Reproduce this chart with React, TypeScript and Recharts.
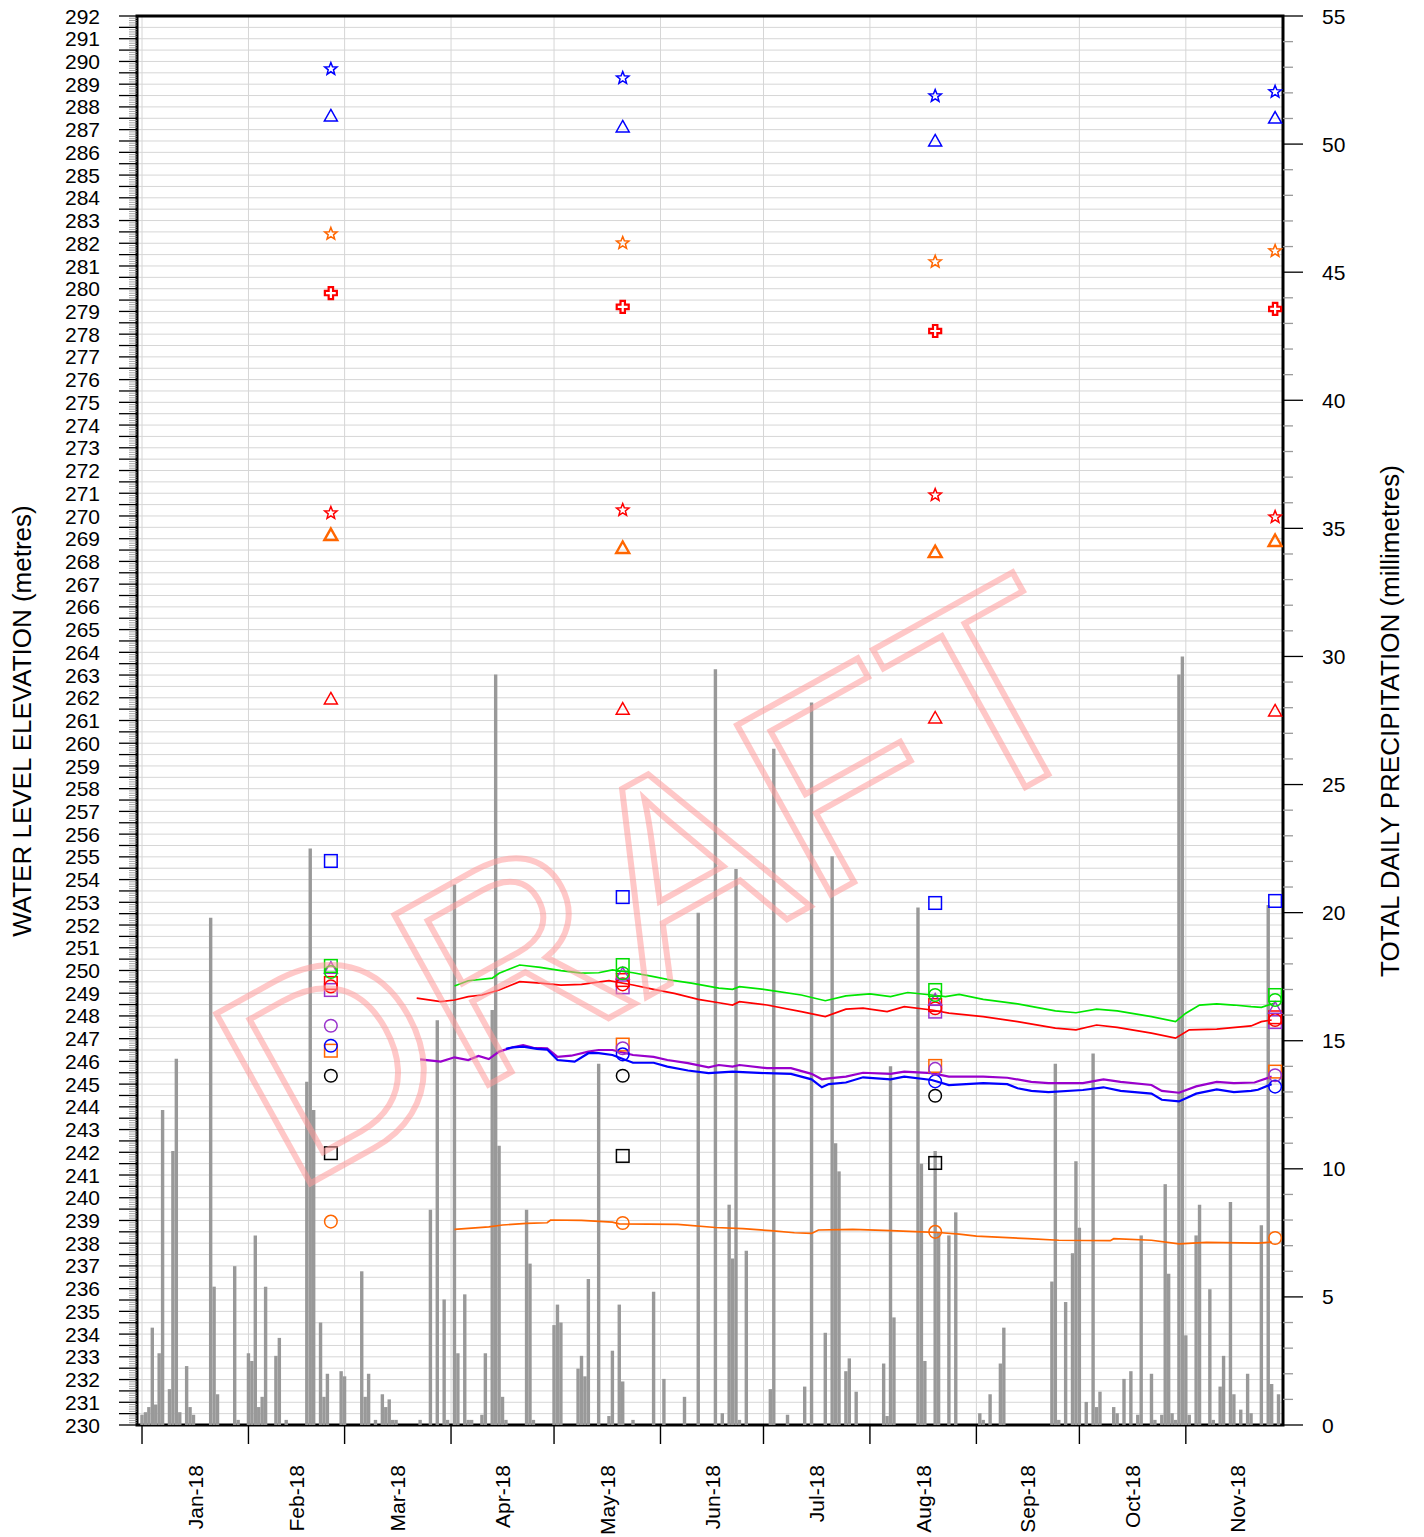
import React from 'react';
import { ComposedChart, Bar, Line, Scatter, XAxis, YAxis, CartesianGrid, ReferenceArea } from 'recharts';

const FONT = '"Liberation Sans", Arial, Helvetica, sans-serif';

// x values are days since 1 Jan 2018
const monthStarts = [0, 31, 59, 90, 120, 151, 181, 212, 243, 273, 304];
const monthMids = [15.5, 45, 74.5, 105, 135.5, 166, 196.5, 227.5, 258, 288.5, 319];
const monthLabels = ['Jan-18', 'Feb-18', 'Mar-18', 'Apr-18', 'May-18', 'Jun-18', 'Jul-18', 'Aug-18', 'Sep-18', 'Oct-18', 'Nov-18'];

// daily precipitation (mm), days with rain
const rainDays = [0, 1, 2, 3, 4, 5, 6, 8, 9, 10, 11, 13, 14, 15, 20, 21, 22, 27, 28, 31, 32, 33, 34, 35, 36, 39, 40, 42,
  48, 49, 50, 52, 53, 54, 58, 59, 64, 65, 66, 68, 70, 71, 72, 73, 74, 81, 84, 86, 88, 89, 91, 92, 94, 95, 96, 99, 100,
  102, 103, 104, 105, 106, 112, 113, 114, 120, 121, 122, 127, 128, 129, 130, 133, 136, 137, 139, 140, 143, 149, 152,
  158, 162, 167, 169, 171, 172, 173, 174, 176, 183, 184, 188, 193, 195, 199, 201, 202, 203, 205, 206, 208, 216, 217,
  218, 219, 226, 227, 228, 231, 232, 235, 237, 244, 245, 247, 250, 251, 265, 266, 267, 269, 271, 272, 273, 275, 277,
  278, 279, 283, 284, 286, 288, 290, 291, 294, 295, 297, 298, 299, 300, 301, 302, 303, 304, 305, 307, 308, 311, 312,
  314, 315, 317, 318, 320, 322, 323, 326, 328, 329, 331];
const rainMM = [0.4, 0.5, 0.7, 3.8, 0.8, 2.8, 12.3, 1.4, 10.7, 14.3, 0.5, 2.3, 0.7, 0.4, 19.8, 5.4, 1.2, 6.2, 0.2, 2.8,
  2.5, 7.4, 0.7, 1.1, 5.4, 2.7, 3.4, 0.2,
  13.4, 22.5, 12.3, 4.0, 1.1, 2.0, 2.1, 1.9, 6.0, 1.1, 2.0, 0.2, 1.2, 0.7, 1.0, 0.2, 0.2, 0.2, 8.4, 15.8, 4.9, 0.2, 21.1,
  2.8, 5.1, 0.2, 0.2, 0.4, 2.8,
  16.2, 29.3, 10.9, 1.1, 0.2, 8.4, 6.3, 0.2, 3.9, 4.7, 4.0, 2.2, 2.7, 1.9, 5.7, 14.1, 0.35, 2.9, 4.7, 1.7, 0.2, 5.2, 1.8,
  1.1, 20.0, 29.5, 0.46, 8.6, 6.5, 21.7, 0.2, 6.8, 1.4, 26.4, 0.4, 1.5, 28.2, 3.6, 22.2, 11.0, 9.9, 2.1, 2.6, 1.3, 2.4, 0.35,
  14.0, 4.2, 20.2, 10.2, 2.5, 10.7, 7.5, 7.4, 8.3, 0.46, 0.2, 1.2, 2.4, 3.8, 5.6, 14.1, 0.2, 4.8, 6.7, 10.3, 7.7, 0.9, 14.5,
  0.7, 1.3, 0.7, 0.46, 1.8, 2.1, 0.4, 7.4, 2.0, 0.2, 0.4, 9.4, 5.9, 0.46, 0.2, 29.3, 30.0, 3.5, 0.4, 7.4, 8.6, 5.3, 0.2,
  1.5, 2.7, 8.7, 1.2, 0.6, 2.0, 0.46, 7.8, 20.3, 1.6, 1.2];

// continuous water level records (m)
const greenDays = [91, 95, 102, 104, 110, 116, 122, 128, 133, 137, 143, 149, 155, 160, 168, 172, 174, 182, 192, 199, 205, 212, 218, 223, 230, 234, 238, 245, 255, 266, 272, 278, 284, 294, 301, 304, 308, 313, 318, 323, 326, 330];
const greenLevels = [249.32, 249.55, 249.66, 249.88, 250.24, 250.14, 249.99, 249.88, 249.9, 250.03, 249.9, 249.73, 249.55, 249.44, 249.22, 249.17, 249.29, 249.15, 248.92, 248.67, 248.88, 248.97, 248.85, 249.03, 248.92, 248.85, 248.95, 248.73, 248.53, 248.22, 248.14, 248.3, 248.22, 247.97, 247.75, 248.12, 248.48, 248.53, 248.48, 248.41, 248.38, 248.57];

const redDays = [80, 87, 91, 95, 99, 104, 110, 116, 122, 128, 136, 143, 149, 155, 162, 168, 172, 174, 182, 192, 199, 205, 210, 217, 222, 230, 235, 245, 255, 266, 272, 278, 284, 294, 301, 305, 313, 323, 326, 329];
const redLevels = [248.78, 248.63, 248.7, 248.85, 248.92, 249.14, 249.51, 249.44, 249.36, 249.39, 249.55, 249.36, 249.17, 248.99, 248.73, 248.58, 248.48, 248.63, 248.48, 248.19, 247.97, 248.3, 248.34, 248.19, 248.41, 248.26, 248.12, 247.97, 247.75, 247.46, 247.39, 247.6, 247.5, 247.24, 247.02, 247.39, 247.42, 247.56, 247.75, 247.82];

const purpleDays = [81, 87, 91, 95, 98, 101, 104, 108, 111, 114, 118, 121, 125, 130, 133, 137, 143, 149, 153, 159, 165, 168, 172, 174, 182, 189, 195, 198, 200, 205, 210, 218, 222, 230, 235, 245, 252, 259, 264, 274, 280, 285, 294, 297, 302, 307, 313, 318, 324, 329];
const purpleLevels = [246.09, 245.99, 246.18, 246.06, 246.24, 246.1, 246.43, 246.62, 246.72, 246.6, 246.57, 246.2, 246.25, 246.43, 246.5, 246.5, 246.28, 246.2, 246.06, 245.92, 245.74, 245.84, 245.77, 245.84, 245.7, 245.7, 245.45, 245.21, 245.25, 245.33, 245.5, 245.45, 245.55, 245.48, 245.33, 245.33, 245.28, 245.1, 245.04, 245.04, 245.21, 245.1, 244.96, 244.7, 244.62, 244.9, 245.1, 245.04, 245.07, 245.33];

const blueDays = [106, 108, 111, 115, 118, 121, 126, 130, 133, 137, 143, 149, 153, 159, 165, 172, 182, 189, 195, 198, 200, 205, 210, 218, 222, 230, 235, 245, 252, 255, 259, 264, 274, 280, 285, 294, 297, 302, 307, 313, 318, 323, 325, 329];
const blueLevels = [246.55, 246.62, 246.65, 246.55, 246.52, 246.06, 245.99, 246.36, 246.36, 246.28, 245.94, 245.94, 245.77, 245.6, 245.48, 245.55, 245.48, 245.45, 245.21, 244.86, 245.0, 245.07, 245.3, 245.21, 245.33, 245.18, 244.96, 245.04, 245.0, 244.82, 244.7, 244.65, 244.74, 244.86, 244.7, 244.58, 244.31, 244.24, 244.58, 244.77, 244.65, 244.7, 244.75, 245.0];

const orangeDays = [91, 101, 105, 112, 118, 119, 128, 137, 139, 156, 167, 175, 183, 190, 195, 197, 207, 218, 227, 232, 238, 243, 258, 267, 282, 283, 294, 302, 310, 325, 329];
const orangeLevels = [238.61, 238.72, 238.8, 238.87, 238.9, 239.02, 239.0, 238.93, 238.85, 238.83, 238.69, 238.64, 238.55, 238.46, 238.43, 238.58, 238.61, 238.55, 238.5, 238.47, 238.4, 238.31, 238.2, 238.13, 238.11, 238.2, 238.13, 237.97, 238.04, 238.0, 238.05];

// manual monitoring events
const sampleDays = [55, 140, 231, 330];
const blueStar = [289.67, 289.27, 288.48, 288.66];
const blueTriangle = [287.6, 287.12, 286.5, 287.51];
const orangeStar = [282.41, 282.01, 281.18, 281.66];
const redCross = [279.81, 279.2, 278.14, 279.11];
const redStar = [270.13, 270.26, 270.92, 269.95];
const orangeTriangle = [269.16, 268.59, 268.41, 268.9];
const redTriangle = [261.95, 261.5, 261.11, 261.42];
const blueSquare = [254.82, 253.23, 252.97, 253.06];
const greenSquare = [250.2, 250.24, 249.14, 248.92];
const greenCircle = [249.93, 249.88, 248.92, 248.7];
const purpleTriangle = [250.1, 249.85, 248.7, 248.34];
const redSquare = [249.45, 249.58, 248.48, 247.94];
const redCircle = [249.3, 249.39, 248.34, 247.82];
const purpleSquare = [249.14, 249.26, 248.19, 247.73];
const purpleCircle = [247.57, 246.58, 245.67, 245.39];
const blueCircle = [246.69, 246.31, 245.12, 244.89];
const orangeSquare = [246.47, 246.74, 245.8, 245.55];
const blackCircle = [245.37, 245.37, 244.49, null];
const blackSquare = [241.96, 241.84, 241.53, null];
const orangeCircle = [238.95, 238.89, 238.5, 238.23];

const BLUE = '#0000ff';
const RED = '#ff0000';
const ORANGE = '#ff6600';
const GREEN = '#00dd00';
const PURPLE = '#9933cc';
const BLACK = '#000000';

// build tables for the library
const precipData = Array.from({ length: 332 }, (_, d) => {
  const i = rainDays.indexOf(d);
  return { x: d, p: i >= 0 ? rainMM[i] : 0 };
});
const toSeries = (days: number[], vals: number[]) => days.map((d, i) => ({ x: d, v: vals[i] }));
const toSamples = (vals: (number | null)[]) =>
  sampleDays.map((d, i) => ({ x: d, v: vals[i] })).filter((p) => p.v !== null);

const leftTicks: number[] = [];
for (let i = 0; i <= 620; i++) leftTicks.push(Math.round((230 + i * 0.1) * 10) / 10);
const gridLevels: number[] = [];
for (let i = 0; i <= 124; i++) gridLevels.push(230 + i * 0.5);
const rightTicks: number[] = [];
for (let i = 0; i <= 55; i++) rightTicks.push(i);

const X_DOMAIN: [number, number] = [-1.46, 332.3];

// ---- marker shapes ----
type ShapeKind = 'star' | 'triangle' | 'square' | 'circle' | 'cross';
const makeShape = (kind: ShapeKind, color: string, sw = 1.5) => (props: any) => {
  const { cx, cy } = props;
  if (cx == null || cy == null) return <g />;
  if (kind === 'circle') return <circle cx={cx} cy={cy} r={6.3} fill="none" stroke={color} strokeWidth={sw} />;
  if (kind === 'square') return <rect x={cx - 6.3} y={cy - 6.3} width={12.6} height={12.6} fill="none" stroke={color} strokeWidth={sw} />;
  if (kind === 'triangle') {
    const pts = `${cx},${cy - 6.5} ${cx + 6.5},${cy + 5} ${cx - 6.5},${cy + 5}`;
    return <polygon points={pts} fill="none" stroke={color} strokeWidth={sw} strokeLinejoin="miter" />;
  }
  if (kind === 'star') {
    const pts: string[] = [];
    for (let k = 0; k < 10; k++) {
      const r = k % 2 === 0 ? 6.5 : 2.8;
      const a = -Math.PI / 2 + (k * Math.PI) / 5;
      pts.push(`${cx + r * Math.cos(a)},${cy + r * Math.sin(a)}`);
    }
    return <polygon points={pts.join(' ')} fill="none" stroke={color} strokeWidth={sw} />;
  }
  // bold plus
  const a = 2.2, b = 6;
  const d = `M${cx - a},${cy - b} H${cx + a} V${cy - a} H${cx + b} V${cy + a} H${cx + a} V${cy + b} H${cx - a} V${cy + a} H${cx - b} V${cy - a} H${cx - a} Z`;
  return <path d={d} fill="#ffffff" stroke={color} strokeWidth={sw} />;
};

const markerSeries: { name: string; vals: (number | null)[]; kind: ShapeKind; color: string; sw?: number }[] = [
  { name: 'blueStar', vals: blueStar, kind: 'star', color: BLUE },
  { name: 'blueTriangle', vals: blueTriangle, kind: 'triangle', color: BLUE },
  { name: 'orangeStar', vals: orangeStar, kind: 'star', color: ORANGE },
  { name: 'redCross', vals: redCross, kind: 'cross', color: RED, sw: 2.2 },
  { name: 'redStar', vals: redStar, kind: 'star', color: RED },
  { name: 'orangeTriangle', vals: orangeTriangle, kind: 'triangle', color: ORANGE, sw: 2.4 },
  { name: 'redTriangle', vals: redTriangle, kind: 'triangle', color: RED },
  { name: 'blueSquare', vals: blueSquare, kind: 'square', color: BLUE },
  { name: 'blackSquare', vals: blackSquare, kind: 'square', color: BLACK },
  { name: 'orangeCircle', vals: orangeCircle, kind: 'circle', color: ORANGE },
  { name: 'blackCircle', vals: blackCircle, kind: 'circle', color: BLACK },
  { name: 'orangeSquare', vals: orangeSquare, kind: 'square', color: ORANGE },
  { name: 'blueCircle', vals: blueCircle, kind: 'circle', color: BLUE },
  { name: 'purpleCircle', vals: purpleCircle, kind: 'circle', color: PURPLE },
  { name: 'purpleSquare', vals: purpleSquare, kind: 'square', color: PURPLE },
  { name: 'redCircle', vals: redCircle, kind: 'circle', color: RED },
  { name: 'redSquare', vals: redSquare, kind: 'square', color: RED },
  { name: 'purpleTriangle', vals: purpleTriangle, kind: 'triangle', color: PURPLE },
  { name: 'greenCircle', vals: greenCircle, kind: 'circle', color: GREEN },
  { name: 'greenSquare', vals: greenSquare, kind: 'square', color: GREEN },
];

// ---- axis ticks ----
const LeftTick = (props: any) => {
  const { x, y, payload } = props;
  const r = Math.round(payload.value * 10);
  const isHalf = r % 5 === 0;
  const isInt = r % 10 === 0;
  return (
    <g>
      {isHalf ? (
        <line x1={x - 18} x2={x} y1={y} y2={y} stroke="#000" strokeWidth={1.3} />
      ) : (
        <line x1={x - 8} x2={x} y1={y} y2={y} stroke="#8a8a8a" strokeWidth={0.8} />
      )}
      {isInt && (
        <text x={x - 37} y={y} dy="0.36em" textAnchor="end" fontSize={21} fontFamily={FONT} fill="#000">
          {Math.round(payload.value)}
        </text>
      )}
    </g>
  );
};

const RightTick = (props: any) => {
  const { x, y, payload } = props;
  const v = payload.value;
  const major = v % 5 === 0;
  return (
    <g>
      <line x1={x} x2={x + (major ? 20 : 10)} y1={y} y2={y} stroke={major ? '#000' : '#9a9a9a'} strokeWidth={1.3} />
      {major && (
        <text x={x + 39} y={y} dy="0.36em" textAnchor="start" fontSize={21} fontFamily={FONT} fill="#000">
          {v}
        </text>
      )}
    </g>
  );
};

const BottomTick = (props: any) => {
  const { x, y, payload } = props;
  const v = payload.value;
  const si = monthStarts.indexOf(v);
  if (si >= 0) return <line x1={x} x2={x} y1={y} y2={y + 19} stroke="#000" strokeWidth={1.4} />;
  const mi = monthMids.indexOf(v);
  const ty = y + 40;
  return (
    <text x={x} y={ty} dy="0.36em" transform={`rotate(-90 ${x} ${ty})`} textAnchor="end" fontSize={21} fontFamily={FONT} fill="#000">
      {monthLabels[mi]}
    </text>
  );
};

const hGen = (args: any) => {
  const { yAxis, offset } = args;
  return gridLevels.map((v) =>
    yAxis && typeof yAxis.scale === 'function' ? yAxis.scale(v) : offset.top + ((292 - v) / 62) * offset.height
  );
};
const vGen = (args: any) => {
  const { xAxis, offset } = args;
  return monthStarts.map((d) =>
    xAxis && typeof xAxis.scale === 'function'
      ? xAxis.scale(d)
      : offset.left + ((d - X_DOMAIN[0]) / (X_DOMAIN[1] - X_DOMAIN[0])) * offset.width
  );
};

export default function App() {
  return (
    <div style={{ position: 'absolute', left: 0, top: 0, width: 1424, height: 1537, background: '#fff', fontFamily: FONT }}>
      <ComposedChart width={1424} height={1537} data={precipData} margin={{ top: 16, right: 0, bottom: 0, left: 0 }}>
        <CartesianGrid
          yAxisId="left"
          stroke="#d6d6d6"
          strokeWidth={1}
          horizontalCoordinatesGenerator={hGen}
          verticalCoordinatesGenerator={vGen}
        />
        <XAxis
          dataKey="x"
          type="number"
          domain={X_DOMAIN}
          allowDataOverflow
          ticks={[...monthStarts, ...monthMids].sort((a, b) => a - b)}
          interval={0}
          height={112}
          tickLine={false}
          axisLine={false}
          tickSize={0}
          tickMargin={0}
          tick={(p: any) => <BottomTick {...p} />}
        />
        <YAxis
          yAxisId="left"
          orientation="left"
          type="number"
          width={137}
          domain={[230, 292]}
          allowDataOverflow
          ticks={leftTicks}
          interval={0}
          tickLine={false}
          axisLine={false}
          tickSize={0}
          tickMargin={0}
          tick={(p: any) => <LeftTick {...p} />}
        />
        <YAxis
          yAxisId="right"
          orientation="right"
          type="number"
          width={141}
          domain={[0, 55]}
          allowDataOverflow
          ticks={rightTicks}
          interval={0}
          tickLine={false}
          axisLine={false}
          tickSize={0}
          tickMargin={0}
          tick={(p: any) => <RightTick {...p} />}
        />
        <Bar yAxisId="right" dataKey="p" fill="#999999" barSize={3.4} isAnimationActive={false} />
        <Line yAxisId="left" data={toSeries(orangeDays, orangeLevels)} dataKey="v" stroke={ORANGE} strokeWidth={1.7} dot={false} isAnimationActive={false} />
        <Line yAxisId="left" data={toSeries(purpleDays, purpleLevels)} dataKey="v" stroke="#9900cc" strokeWidth={2.2} dot={false} isAnimationActive={false} />
        <Line yAxisId="left" data={toSeries(blueDays, blueLevels)} dataKey="v" stroke={BLUE} strokeWidth={2.2} dot={false} isAnimationActive={false} />
        <Line yAxisId="left" data={toSeries(redDays, redLevels)} dataKey="v" stroke={RED} strokeWidth={1.7} dot={false} isAnimationActive={false} />
        <Line yAxisId="left" data={toSeries(greenDays, greenLevels)} dataKey="v" stroke="#00e600" strokeWidth={1.7} dot={false} isAnimationActive={false} />
        {markerSeries.map((m) => (
          <Scatter
            key={m.name}
            name={m.name}
            yAxisId="left"
            data={toSamples(m.vals)}
            dataKey="v"
            shape={makeShape(m.kind, m.color, m.sw ?? 1.5)}
            isAnimationActive={false}
          />
        ))}
        <ReferenceArea
          yAxisId="left"
          x1={X_DOMAIN[0]}
          x2={X_DOMAIN[1]}
          y1={230}
          y2={292}
          fill="none"
          fillOpacity={0}
          stroke="#000"
          strokeWidth={3}
          ifOverflow="visible"
        />
      </ComposedChart>
      <svg width={1424} height={1537} style={{ position: 'absolute', left: 0, top: 0, pointerEvents: 'none' }}>
        <text x={22} y={721} dy="0.36em" transform="rotate(-90 22 721)" textAnchor="middle" fontSize={26} fontFamily={FONT} fill="#000">
          WATER LEVEL ELEVATION (metres)
        </text>
        <text x={1390} y={721} dy="0.36em" transform="rotate(-90 1390 721)" textAnchor="middle" fontSize={26} fontFamily={FONT} fill="#000">
          TOTAL DAILY PRECIPITATION (millimetres)
        </text>
        <text
          x={652}
          y={878}
          dy="0.36em"
          transform="rotate(-29 652 878)"
          textAnchor="middle"
          fontSize={282}
          fontFamily={FONT}
          fill="none"
          stroke="#ff9c9c"
          strokeWidth={6}
          opacity={0.55}
        >
          DRAFT
        </text>
      </svg>
    </div>
  );
}
